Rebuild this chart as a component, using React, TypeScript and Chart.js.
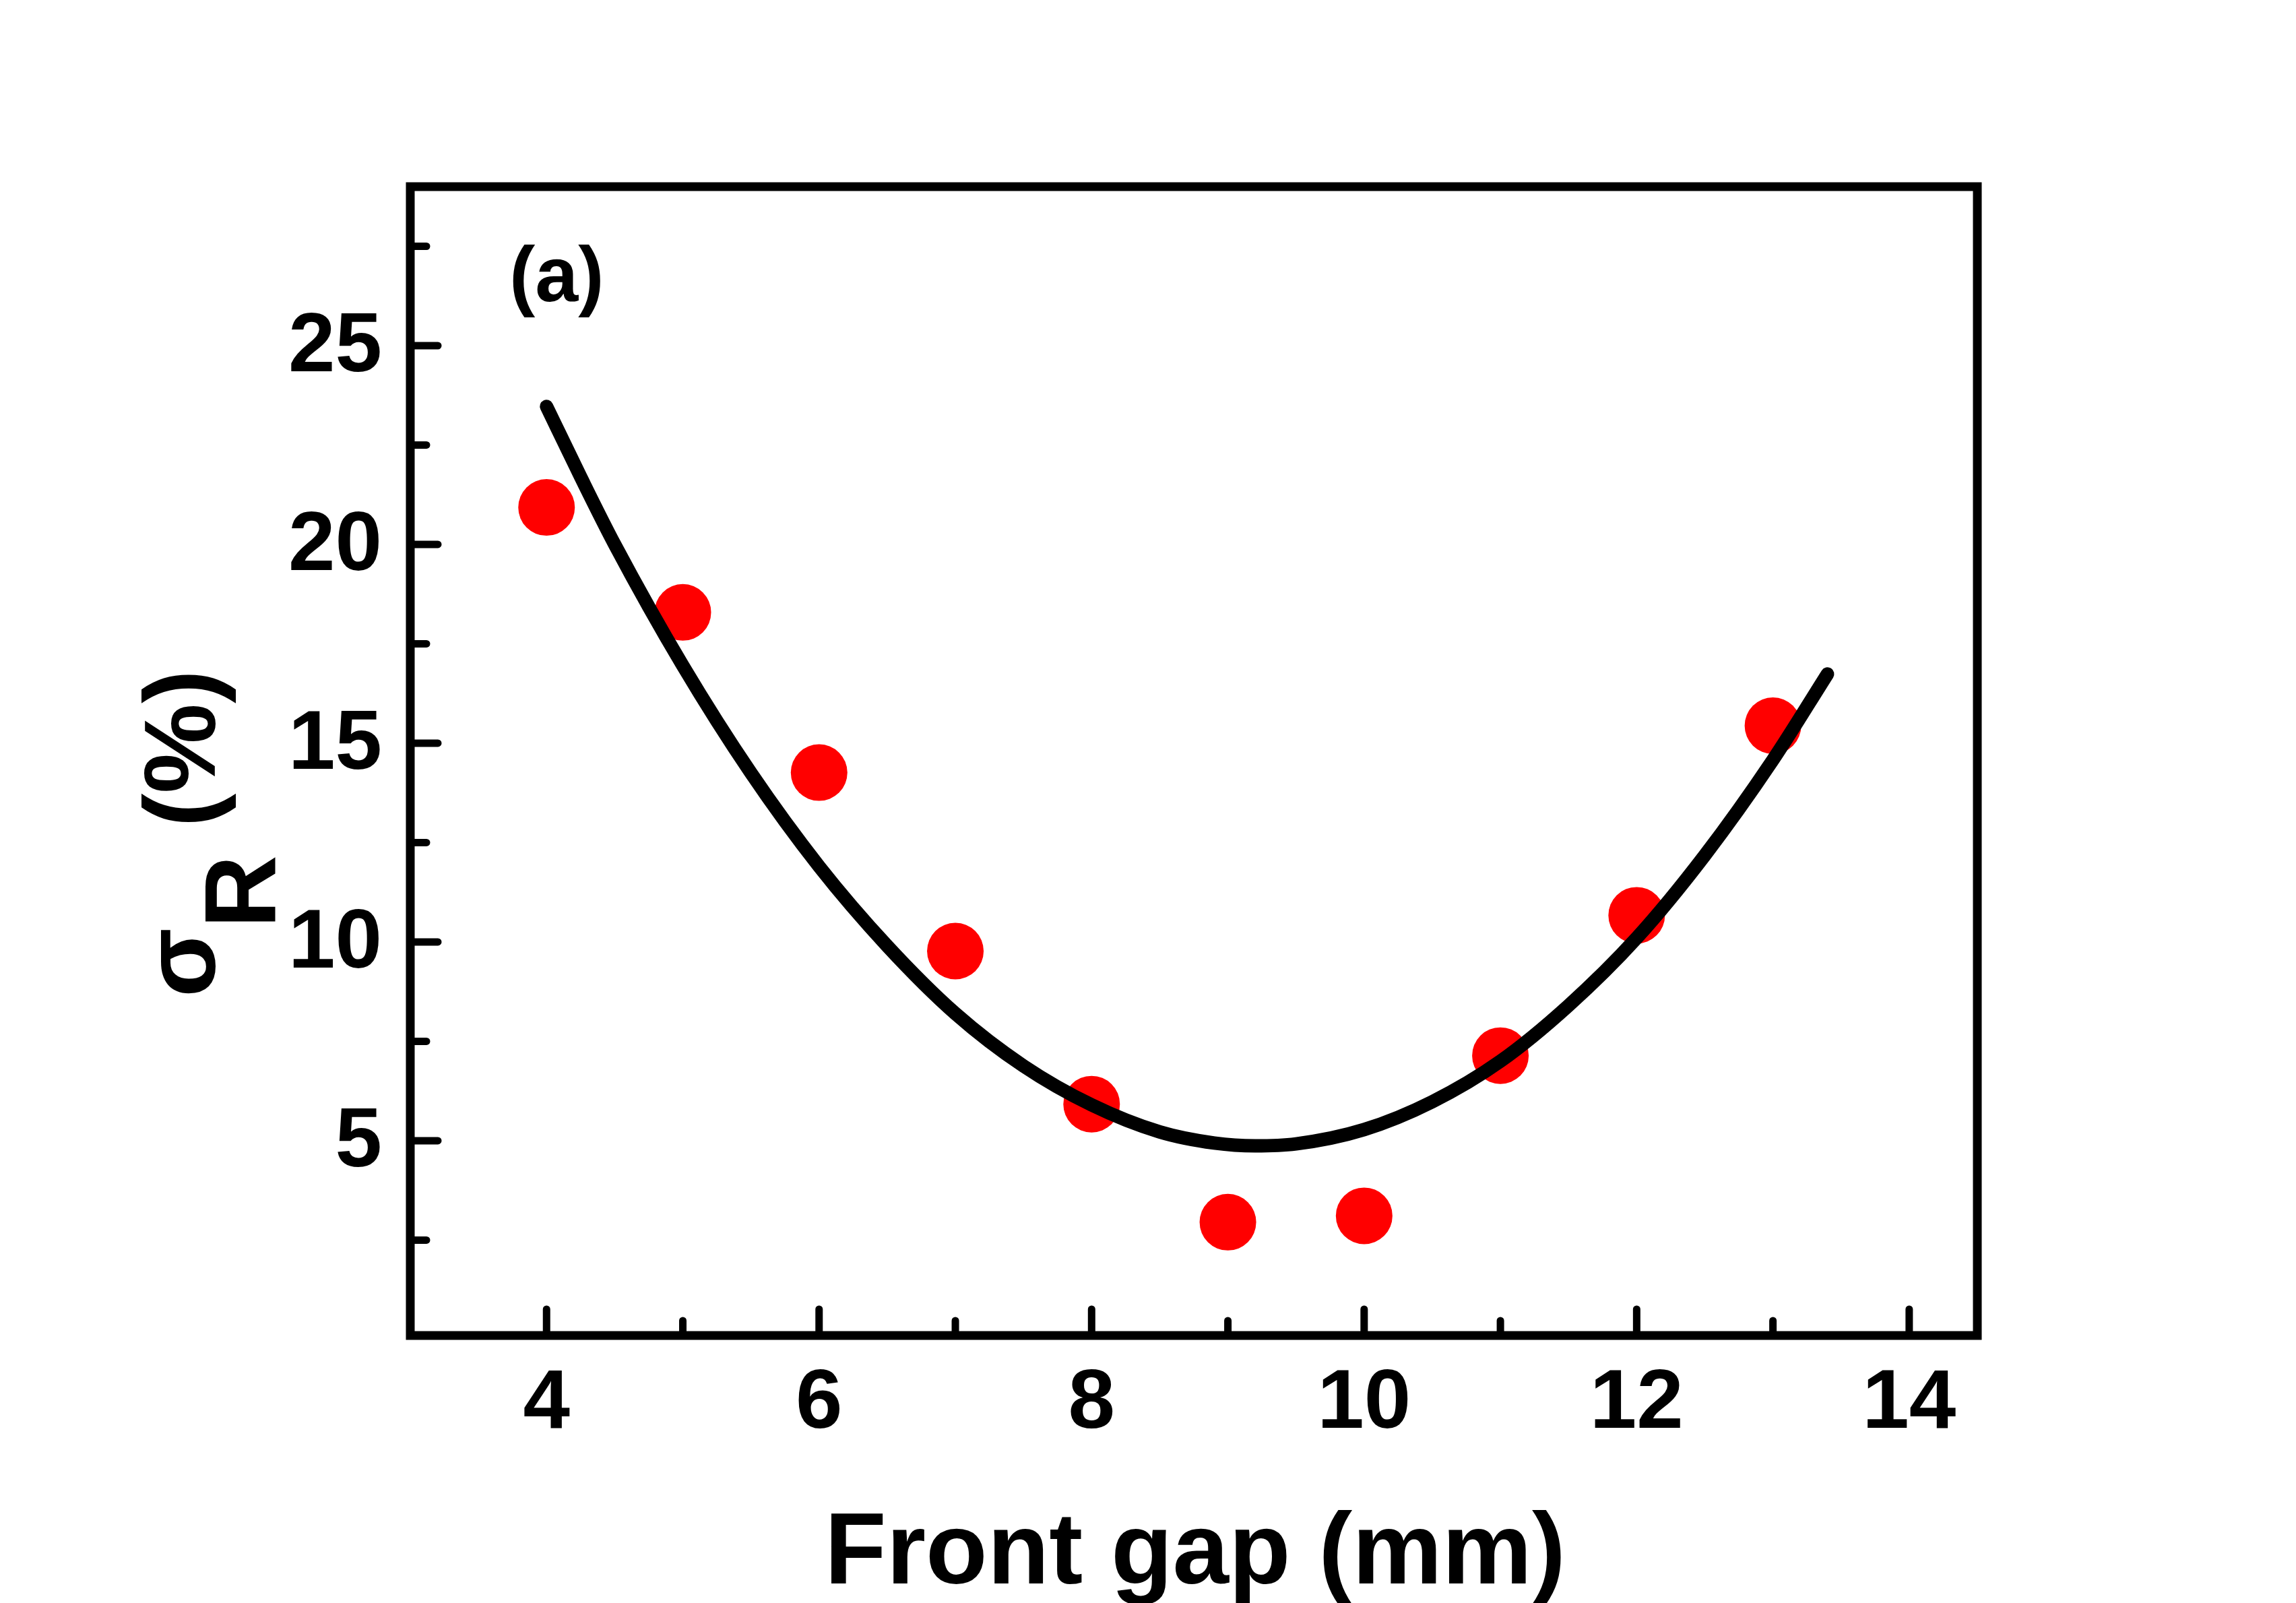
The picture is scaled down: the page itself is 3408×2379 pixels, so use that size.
import { useEffect, useRef } from 'react';
import { Chart, registerables } from 'chart.js';

Chart.register(...registerables);

// measured points: front gap (mm) vs sigma_R (%)
const gapMm = [4, 5, 6, 7, 8, 9, 10, 11, 12, 13];
const sigmaR = [20.93, 18.29, 14.26, 9.77, 5.92, 2.95, 3.11, 7.14, 10.67, 15.44];

// fitted curve
const fitGap = [4, 4.25, 4.5, 5, 5.5, 6, 6.5, 7, 7.5, 8, 8.5, 8.9, 9.2, 9.5, 10, 10.5, 11, 11.5, 12, 12.5, 13, 13.4];
const fitSigma = [23.47, 21.7, 20.0, 16.95, 14.25, 11.9, 9.9, 8.2, 6.88, 5.9, 5.22, 4.94, 4.87, 4.92, 5.28, 5.98, 7.0, 8.4, 10.1, 12.18, 14.58, 16.74];

const xMajorTicks = [4, 6, 8, 10, 12, 14];
const xMinorTicks = [5, 7, 9, 11, 13];
const yMajorTicks = [5, 10, 15, 20, 25];
const yMinorTicks = [2.5, 7.5, 12.5, 17.5, 22.5, 27.5];

const FONT = '"Liberation Sans", Arial, sans-serif';

const framePlugin = {
  id: 'originFrame',
  afterDraw(chart: any) {
    const { ctx, chartArea: a, scales } = chart;
    const xs = scales.x;
    const ys = scales.y;
    ctx.save();
    ctx.strokeStyle = '#000';
    ctx.fillStyle = '#000';

    // inward ticks
    ctx.lineCap = 'round';
    ctx.lineWidth = 11;
    const xTick = (v: number, len: number) => {
      const px = xs.getPixelForValue(v);
      ctx.beginPath();
      ctx.moveTo(px, a.bottom);
      ctx.lineTo(px, a.bottom - len);
      ctx.stroke();
    };
    const yTick = (v: number, len: number) => {
      const py = ys.getPixelForValue(v);
      ctx.beginPath();
      ctx.moveTo(a.left, py);
      ctx.lineTo(a.left + len, py);
      ctx.stroke();
    };
    xMajorTicks.forEach((v) => xTick(v, 39));
    xMinorTicks.forEach((v) => xTick(v, 22));
    yMajorTicks.forEach((v) => yTick(v, 41));
    yMinorTicks.forEach((v) => yTick(v, 24));

    // box
    ctx.lineCap = 'butt';
    ctx.lineJoin = 'miter';
    ctx.lineWidth = 13;
    ctx.strokeRect(a.left, a.top, a.right - a.left, a.bottom - a.top);

    // tick labels
    ctx.font = `bold 125px ${FONT}`;
    ctx.textBaseline = 'alphabetic';
    ctx.textAlign = 'center';
    xMajorTicks.forEach((v) => ctx.fillText(String(v), xs.getPixelForValue(v), a.bottom + 137));
    ctx.textAlign = 'right';
    yMajorTicks.forEach((v) => ctx.fillText(String(v), a.left - 42, ys.getPixelForValue(v) + 38));

    // x title
    ctx.font = `bold 150px ${FONT}`;
    ctx.textAlign = 'center';
    ctx.fillText('Front gap (mm)', (a.left + a.right) / 2 + 2, a.bottom + 368);

    // y title: sigma with subscript R, rotated
    ctx.save();
    ctx.translate(a.left - 290, a.bottom - 502);
    ctx.rotate(-Math.PI / 2);
    ctx.textAlign = 'left';
    ctx.font = `bold 150px ${FONT}`;
    ctx.fillText('σ', 0, 0);
    const sw = ctx.measureText('σ').width;
    ctx.fillText('R', sw, 89);
    const rw = ctx.measureText('R').width;
    ctx.fillText(' (%)', sw + rw, 0);
    ctx.restore();

    // panel label
    ctx.font = `bold 115px ${FONT}`;
    ctx.textAlign = 'left';
    ctx.fillText('(a)', a.left + 147, a.top + 170);

    ctx.restore();
  },
};

export default function App() {
  const canvasRef = useRef<HTMLCanvasElement>(null);
  const chartRef = useRef<Chart | null>(null);

  useEffect(() => {
    document.body.style.margin = '0';
    document.body.style.overflow = 'hidden';
    if (!canvasRef.current) return;
    const ctx = canvasRef.current.getContext('2d');
    if (!ctx) return;

    if (chartRef.current) chartRef.current.destroy();

    chartRef.current = new Chart(ctx, {
      type: 'scatter',
      data: {
        datasets: [
          {
            type: 'line',
            label: 'fit',
            data: fitGap.map((g, i) => ({ x: g, y: fitSigma[i] })),
            borderColor: '#000',
            borderWidth: 20,
            borderCapStyle: 'round',
            borderJoinStyle: 'round',
            pointRadius: 0,
            fill: false,
            cubicInterpolationMode: 'monotone',
          },
          {
            type: 'scatter',
            label: 'sigma R',
            data: gapMm.map((g, i) => ({ x: g, y: sigmaR[i] })),
            backgroundColor: '#ff0000',
            borderWidth: 0,
            pointRadius: 42,
          },
        ],
      } as any,
      options: {
        animation: false,
        responsive: true,
        maintainAspectRatio: false,
        layout: { padding: { left: 609, top: 277, right: 473, bottom: 397 } },
        scales: {
          x: { type: 'linear', min: 3, max: 14.5, display: false },
          y: { type: 'linear', min: 0.1, max: 29, display: false },
        },
        plugins: {
          legend: { display: false },
          tooltip: { enabled: false },
        },
      },
      plugins: [framePlugin],
    });

    return () => {
      if (chartRef.current) {
        chartRef.current.destroy();
        chartRef.current = null;
      }
    };
  }, []);

  return (
    <div style={{ position: 'absolute', left: 0, top: 0, width: 3408, height: 2379, background: '#fff' }}>
      <canvas ref={canvasRef} />
    </div>
  );
}
